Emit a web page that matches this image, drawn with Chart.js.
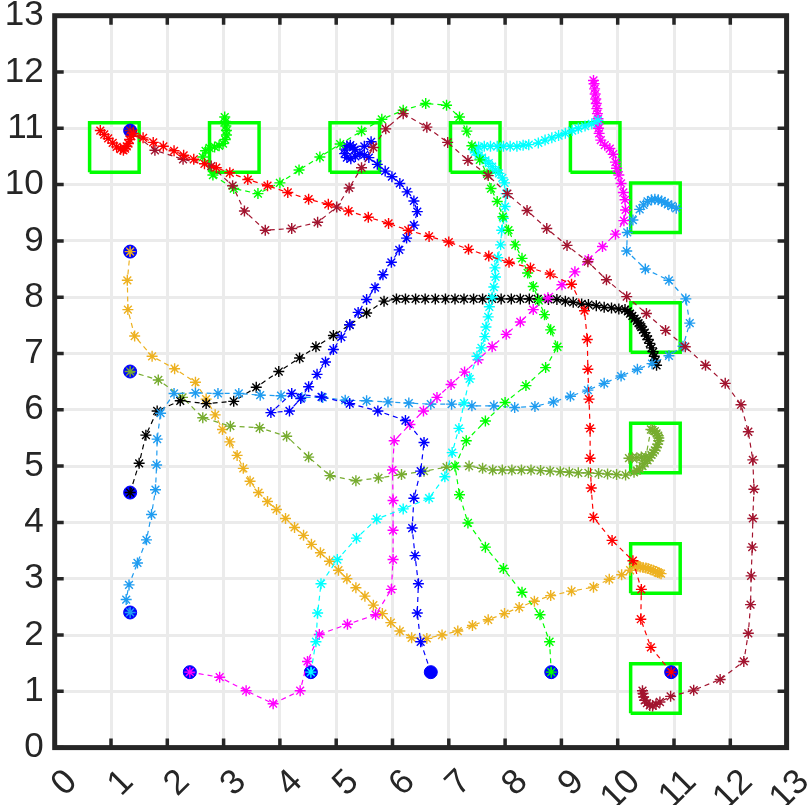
<!DOCTYPE html>
<html>
<head>
<meta charset="utf-8">
<script src="https://cdn.jsdelivr.net/npm/chart.js@4.4.1/dist/chart.umd.min.js"></script>
<style>
  html, body { margin:0; padding:0; background:#fff; }
  #wrap { width:808px; height:805px; }
</style>
</head>
<body>
<div id="wrap"><canvas id="chart-paths" width="808" height="805"></canvas></div>
<script>
const ticksXY = [0,1,2,3,4,5,6,7,8,9,10,11,12,13];

// start points (blue dots)
const startX = [1.34, 1.34, 1.34, 1.34, 1.34, 2.40, 4.55, 6.68, 8.82, 10.95];
const startY = [10.96, 8.81, 6.68, 4.53, 2.40, 1.34, 1.34, 1.34, 1.34, 1.34];

// goal squares (centres)
const goalX = [1.06, 3.19, 5.33, 7.47, 9.60, 10.67, 10.67, 10.67, 10.67, 10.67];
const goalY = [10.66, 10.66, 10.66, 10.66, 10.66, 9.59, 7.46, 5.32, 3.18, 1.05];
const GOAL_HALF = 0.44;

// trajectories
const maroonX = [1.34,1.78,2.28,2.78,3.16,3.37,3.74,4.21,4.67,5.01,5.23,5.45,5.66,5.88,6.19,6.61,6.98,7.34,7.7,8.04,8.39,8.74,9.1,9.47,9.8,10.16,10.51,10.85,11.2,11.56,11.91,12.19,12.32,12.4,12.42,12.4,12.39,12.37,12.36,12.32,12.24,11.82,11.35,10.94,10.75,10.68,10.62,10.57,10.52,10.48,10.46,10.45,10.44];
const maroonY = [10.96,10.61,10.45,10.33,9.98,9.53,9.19,9.22,9.33,9.6,9.94,10.3,10.66,10.99,11.26,11.02,10.75,10.43,10.16,9.84,9.54,9.22,8.92,8.63,8.31,8.01,7.71,7.41,7.12,6.79,6.47,6.09,5.61,5.11,4.59,4.07,3.56,3.05,2.54,2.03,1.53,1.21,1.02,0.91,0.81,0.77,0.74,0.75,0.79,0.84,0.9,0.96,1.01];

const redX = [10.95,10.59,10.41,10.42,10.27,9.9,9.57,9.53,9.51,9.51,9.49,9.47,9.46,9.41,9.18,8.8,8.45,8.07,7.71,7.35,7.0,6.65,6.28,5.93,5.57,5.22,4.86,4.51,4.14,3.78,3.43,3.11,2.87,2.66,2.47,2.29,2.12,1.93,1.75,1.57,1.4,1.36,1.33,1.31,1.28,1.25,1.22,1.17,1.1,1.03,0.95,0.88,0.81];
const redY = [1.34,1.78,2.28,2.81,3.32,3.68,4.09,4.61,5.14,5.67,6.19,6.72,7.25,7.76,8.23,8.41,8.52,8.62,8.73,8.85,8.98,9.08,9.19,9.31,9.42,9.53,9.65,9.74,9.86,9.98,10.09,10.21,10.3,10.37,10.45,10.52,10.6,10.68,10.75,10.83,10.91,10.86,10.8,10.73,10.68,10.64,10.61,10.63,10.67,10.74,10.82,10.89,10.96];

const greenX = [8.82,8.79,8.62,8.3,7.97,7.65,7.34,7.19,7.11,7.31,7.65,8.0,8.37,8.72,8.93,8.81,8.7,8.6,8.5,8.4,8.3,8.18,8.06,7.96,7.86,7.75,7.68,7.55,7.41,7.32,7.19,6.96,6.59,6.19,5.81,5.45,5.07,4.71,4.34,4.0,3.61,3.18,2.81,2.63,2.68,2.75,2.84,2.92,2.99,3.03,3.05,3.05,3.04,3.03,3.02];
const greenY = [1.34,1.88,2.36,2.76,3.18,3.56,3.99,4.49,5.0,5.45,5.8,6.13,6.43,6.75,7.12,7.42,7.69,7.94,8.19,8.43,8.69,8.93,9.19,9.43,9.7,9.93,10.19,10.44,10.69,10.95,11.2,11.41,11.44,11.32,11.16,10.95,10.72,10.49,10.26,10.03,9.84,9.93,10.17,10.49,10.6,10.65,10.67,10.69,10.73,10.8,10.88,10.96,11.04,11.12,11.2];

const blueX = [6.68,6.5,6.44,6.46,6.4,6.35,6.38,6.5,6.56,6.23,5.74,5.24,4.74,4.21,3.84,4.17,4.37,4.51,4.66,4.81,4.95,5.09,5.24,5.39,5.54,5.69,5.83,5.98,6.12,6.25,6.38,6.44,6.38,6.26,6.13,5.99,5.87,5.73,5.58,5.5,5.42,5.34,5.26,5.19,5.15,5.15,5.19,5.25,5.3,5.33,5.5,5.62];
const blueY = [1.34,1.88,2.39,2.91,3.41,3.9,4.43,4.91,5.42,5.81,5.98,6.11,6.23,6.29,5.95,5.98,6.2,6.41,6.63,6.85,7.07,7.29,7.51,7.73,7.96,8.17,8.4,8.62,8.84,9.05,9.28,9.52,9.71,9.87,10.02,10.14,10.24,10.36,10.48,10.53,10.55,10.5,10.46,10.48,10.55,10.63,10.69,10.7,10.66,10.62,10.68,10.76];

const cyanX = [4.55,4.64,4.67,4.73,5.02,5.36,5.72,6.19,6.65,6.93,7.06,7.18,7.27,7.37,7.5,7.58,7.64,7.66,7.7,7.72,7.77,7.8,7.83,7.82,7.87,7.92,7.94,7.97,8.0,8.02,7.99,7.95,7.89,7.83,7.77,7.71,7.65,7.59,7.53,7.47,7.45,7.53,7.63,7.74,7.86,7.97,8.09,8.21,8.32,8.42,8.59,8.71,8.83,8.95,9.07,9.19,9.3,9.42,9.54,9.65];
const cyanY = [1.34,1.88,2.39,2.91,3.34,3.72,4.06,4.24,4.43,4.81,5.24,5.67,6.12,6.55,6.95,7.1,7.3,7.47,7.65,7.83,8.0,8.18,8.36,8.52,8.7,8.93,9.19,9.4,9.61,9.84,10.03,10.12,10.2,10.26,10.32,10.38,10.43,10.48,10.52,10.58,10.62,10.67,10.68,10.68,10.68,10.68,10.68,10.68,10.7,10.71,10.74,10.79,10.83,10.87,10.91,10.96,11.0,11.04,11.08,11.14];

const magentaX = [2.4,2.93,3.4,3.88,4.36,4.49,4.7,5.2,5.7,5.98,6.01,6.01,6.01,6.0,6.03,6.31,6.55,6.79,7.04,7.28,7.52,7.77,8.02,8.27,8.5,8.76,9.01,9.24,9.48,9.73,9.96,10.11,10.14,10.13,10.1,10.06,10.02,9.98,9.96,9.92,9.86,9.77,9.7,9.67,9.66,9.65,9.65,9.64,9.63,9.62,9.61,9.6,9.59,9.58,9.57];
const magentaY = [1.34,1.25,1.01,0.78,1.01,1.53,2.01,2.19,2.36,2.81,3.34,3.86,4.39,4.93,5.45,5.74,5.98,6.22,6.45,6.67,6.89,7.12,7.34,7.56,7.78,7.99,8.22,8.45,8.67,8.9,9.12,9.36,9.55,9.73,9.86,10.02,10.17,10.29,10.4,10.54,10.64,10.7,10.79,10.91,11.0,11.08,11.17,11.26,11.35,11.44,11.52,11.61,11.7,11.79,11.85];

const skyX = [1.34,1.27,1.32,1.47,1.63,1.72,1.79,1.81,1.82,1.88,2.12,2.5,2.9,3.27,3.65,4.02,4.39,4.76,5.16,5.54,5.92,6.29,6.68,7.05,7.41,7.8,8.17,8.53,8.86,9.16,9.47,9.76,10.06,10.35,10.61,10.91,11.16,11.28,11.21,10.91,10.49,10.16,10.17,10.27,10.39,10.46,10.53,10.6,10.66,10.72,10.78,10.84,10.89,10.96,11.04];
const skyY = [2.4,2.63,2.89,3.28,3.69,4.14,4.58,5.02,5.48,5.94,6.29,6.3,6.29,6.29,6.26,6.25,6.22,6.22,6.17,6.16,6.14,6.12,6.1,6.1,6.07,6.07,6.04,6.06,6.14,6.24,6.35,6.47,6.6,6.72,6.82,6.96,7.13,7.54,7.97,8.3,8.5,8.82,9.15,9.37,9.56,9.64,9.7,9.73,9.74,9.73,9.71,9.68,9.65,9.62,9.58];

const blackX = [1.34,1.5,1.62,1.82,2.23,2.69,3.18,3.58,3.98,4.35,4.64,4.95,5.24,5.54,5.85,6.07,6.23,6.41,6.58,6.76,6.94,7.11,7.27,7.44,7.6,7.77,7.93,8.11,8.27,8.43,8.58,8.77,8.92,9.07,9.21,9.36,9.48,9.62,9.76,9.89,10.02,10.13,10.18,10.22,10.26,10.3,10.34,10.37,10.4,10.42,10.45,10.48,10.51,10.54,10.57,10.6,10.63,10.65,10.67,10.69];
const blackY = [4.53,5.05,5.55,5.98,6.16,6.11,6.15,6.4,6.68,6.92,7.12,7.32,7.51,7.72,7.93,7.97,7.97,7.97,7.97,7.97,7.97,7.97,7.97,7.97,7.97,7.97,7.97,7.97,7.97,7.97,7.97,7.96,7.96,7.93,7.91,7.88,7.87,7.85,7.82,7.81,7.79,7.78,7.75,7.71,7.67,7.62,7.58,7.54,7.5,7.47,7.42,7.37,7.31,7.25,7.18,7.1,7.03,6.95,6.87,6.79];

const oliveX = [1.34,1.84,2.27,2.63,3.12,3.64,4.12,4.51,4.89,5.35,5.75,6.16,6.56,6.96,7.36,7.6,7.78,7.95,8.12,8.29,8.46,8.63,8.8,8.98,9.14,9.3,9.48,9.66,9.82,9.98,10.14,10.29,10.34,10.39,10.44,10.48,10.53,10.57,10.6,10.63,10.66,10.69,10.71,10.73,10.73,10.72,10.69,10.66,10.62,10.59,10.5,10.42,10.34,10.26,10.2];
const oliveY = [6.68,6.53,6.22,5.86,5.71,5.68,5.53,5.16,4.83,4.74,4.79,4.85,4.91,4.98,5.0,4.96,4.93,4.93,4.93,4.93,4.93,4.92,4.91,4.9,4.89,4.88,4.88,4.87,4.86,4.85,4.84,4.89,4.92,4.95,5.0,5.05,5.1,5.15,5.2,5.24,5.28,5.33,5.39,5.45,5.5,5.54,5.58,5.62,5.64,5.65,5.17,5.16,5.15,5.15,5.14];

const orangeX = [1.34,1.29,1.3,1.42,1.73,2.13,2.5,2.69,2.85,2.98,3.11,3.24,3.35,3.47,3.62,3.78,3.94,4.1,4.26,4.42,4.56,4.72,4.88,5.04,5.19,5.35,5.51,5.66,5.82,5.97,6.13,6.34,6.61,6.88,7.16,7.42,7.7,7.99,8.25,8.52,8.81,9.18,9.57,9.85,10.07,10.22,10.3,10.33,10.36,10.4,10.45,10.5,10.54,10.59,10.63,10.67,10.71,10.74,10.77];
const orangeY = [8.81,8.3,7.78,7.31,6.95,6.73,6.49,6.19,5.91,5.65,5.43,5.19,4.96,4.73,4.53,4.37,4.23,4.07,3.91,3.77,3.61,3.46,3.31,3.15,3.0,2.84,2.69,2.53,2.38,2.22,2.07,1.95,1.94,2.0,2.07,2.17,2.27,2.38,2.49,2.6,2.7,2.78,2.85,2.99,3.07,3.15,3.25,3.24,3.22,3.21,3.2,3.19,3.18,3.16,3.15,3.13,3.11,3.1,3.09];

const paths = [
  { x: redX,     y: redY,     color: '#ff0000' },
  { x: maroonX,  y: maroonY,  color: '#a2142f' },
  { x: greenX,   y: greenY,   color: '#00ff00' },
  { x: blueX,    y: blueY,    color: '#0000ff' },
  { x: cyanX,    y: cyanY,    color: '#00ffff' },
  { x: magentaX, y: magentaY, color: '#ff00ff' },
  { x: skyX,     y: skyY,     color: '#1f9cf0' },
  { x: blackX,   y: blackY,   color: '#000000' },
  { x: oliveX,   y: oliveY,   color: '#77ac30' },
  { x: orangeX,  y: orangeY,  color: '#edb120' },
];

const pts = (xs, ys) => xs.map((x,i) => ({ x, y: ys[i] }));

const datasets = [];
paths.forEach(p => {
  datasets.push({
    data: pts(p.x, p.y), showLine: true,
    borderColor: p.color, borderWidth: 1.2, borderDash: [5,4],
    pointStyle: 'star', pointRadius: 5.5, pointBorderWidth: 1.4,
    pointBorderColor: p.color, pointBackgroundColor: p.color
  });
});
datasets.push({
  data: pts(startX, startY), showLine: false,
  pointStyle: 'circle', pointRadius: 6.5, pointBorderWidth: 1,
  pointBackgroundColor: '#0000ff', pointBorderColor: '#0000ff'
});
goalX.forEach((cx,i) => {
  const cy = goalY[i], h = GOAL_HALF;
  datasets.push({
    data: [{x:cx-h,y:cy-h},{x:cx+h,y:cy-h},{x:cx+h,y:cy+h},{x:cx-h,y:cy+h},{x:cx-h,y:cy-h}],
    showLine: true, borderColor: '#00ff00', borderWidth: 3.5, pointRadius: 0
  });
});

// box + inward ticks like the original axes
const frame = {
  id: 'frame',
  afterDraw(chart) {
    const {ctx, chartArea: a, scales} = chart;
    ctx.save();
    ctx.strokeStyle = '#262626';
    ctx.lineWidth = 3.5;
    ticksXY.forEach(v => {
      const px = scales.x.getPixelForValue(v), py = scales.y.getPixelForValue(v);
      ctx.beginPath();
      ctx.moveTo(px, a.bottom); ctx.lineTo(px, a.bottom - 9);
      ctx.moveTo(px, a.top);    ctx.lineTo(px, a.top + 9);
      ctx.moveTo(a.left, py);   ctx.lineTo(a.left + 9, py);
      ctx.moveTo(a.right, py);  ctx.lineTo(a.right - 9, py);
      ctx.stroke();
    });
    ctx.lineWidth = 5;
    ctx.strokeRect(a.left, a.top, a.right - a.left, a.bottom - a.top);
    ctx.restore();
  }
};

const tickFont = { family: "'Liberation Sans', Arial, sans-serif", size: 35 };

// keep the plot box where the original has it (labels may overflow)
const fixX = s => { s.height = 57.4; s.paddingLeft = 0; s.paddingRight = 0; };
const fixY = s => { s.width = 54.7; s.paddingTop = 0; s.paddingBottom = 0; };

new Chart(document.getElementById('chart-paths'), {
  type: 'scatter',
  data: { datasets },
  options: {
    responsive: false, animation: false, devicePixelRatio: 1,
    layout: { padding: { top: 15.7, right: 21.4, left: 0, bottom: 0 } },
    plugins: { legend: { display: false }, tooltip: { enabled: false } },
    scales: {
      x: {
        type: 'linear', min: 0, max: 13,
        afterBuildTicks: s => { s.ticks = ticksXY.map(v => ({ value: v })); },
        afterFit: fixX,
        ticks: { autoSkip: false, minRotation: 45, maxRotation: 45, labelOffset: 17, padding: 14,
                 font: tickFont, color: '#262626' },
        grid: { color: '#ebebeb', lineWidth: 3, drawTicks: false },
        border: { display: false }
      },
      y: {
        type: 'linear', min: 0, max: 13,
        afterBuildTicks: s => { s.ticks = ticksXY.map(v => ({ value: v })); },
        afterFit: fixY,
        ticks: { autoSkip: false, padding: 11, font: tickFont, color: '#262626' },
        grid: { color: '#ebebeb', lineWidth: 3, drawTicks: false },
        border: { display: false }
      }
    }
  },
  plugins: [frame]
});
</script>
</body>
</html>
